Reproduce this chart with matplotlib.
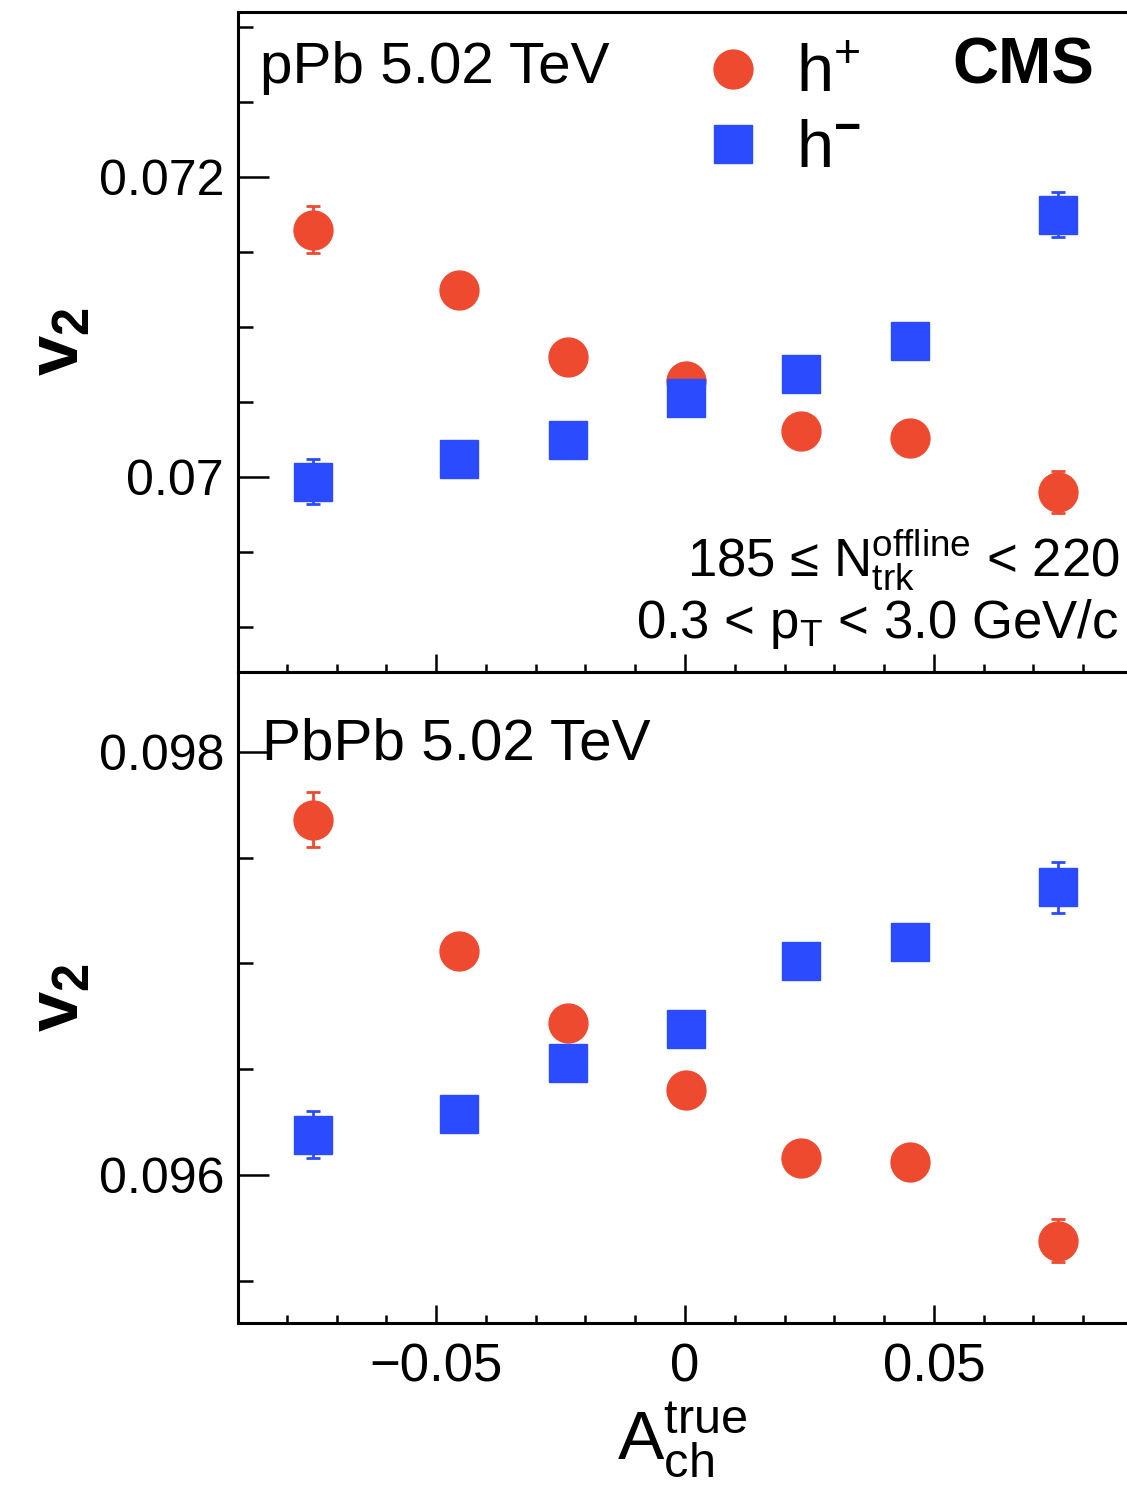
import matplotlib
matplotlib.use('Agg')
import matplotlib.pyplot as plt
from matplotlib.ticker import MultipleLocator, FuncFormatter
from matplotlib.lines import Line2D

plt.rcParams['font.family'] = ['Liberation Sans', 'DejaVu Sans']
plt.rcParams['mathtext.fontset'] = 'custom'
plt.rcParams['mathtext.rm'] = 'Liberation Sans'
plt.rcParams['mathtext.it'] = 'Liberation Sans:italic'
plt.rcParams['mathtext.bf'] = 'Liberation Sans:bold'

## charge asymmetry bins
ach_pos = [-0.0747, -0.0454, -0.0235, 0.0002, 0.0234, 0.0453, 0.0750]
ach_neg = [-0.0747, -0.0454, -0.0235, 0.0002, 0.0234, 0.0453, 0.0750]

## pPb 185 <= Ntrk < 220
ppb_hpos = [0.07165, 0.07125, 0.07080, 0.07064, 0.07031, 0.07026, 0.06990]
ppb_hpos_err = [0.00016, 0.00008, 0.00008, 0.00008, 0.00008, 0.00008, 0.00014]
ppb_hneg = [0.06997, 0.07012, 0.07025, 0.07053, 0.07069, 0.07091, 0.07175]
ppb_hneg_err = [0.00015, 0.00008, 0.00008, 0.00008, 0.00008, 0.00008, 0.00015]

## PbPb
pbpb_hpos = [0.09768, 0.09706, 0.09672, 0.09640, 0.09608, 0.09606, 0.09569]
pbpb_hpos_err = [0.00013, 0.00008, 0.00008, 0.00008, 0.00008, 0.00008, 0.00010]
pbpb_hneg = [0.09619, 0.09629, 0.09653, 0.09669, 0.09701, 0.09710, 0.09736]
pbpb_hneg_err = [0.00011, 0.00008, 0.00008, 0.00008, 0.00008, 0.00008, 0.00012]

red = '#EE4A2F'
blue = '#2B4BFF'

W, H = 1127, 1487
fig = plt.figure(figsize=(W / 100, H / 100), dpi=100)
left = 238 / W
ax1 = fig.add_axes([left, 1 - 672 / H, 1 - left, (672 - 12) / H])
ax2 = fig.add_axes([left, 1 - 1323 / H, 1 - left, (1323 - 672) / H])

def fmt(v, pos):
    return ('%g' % round(v, 4)).replace('-', '\u2212')

for ax in (ax1, ax2):
    ax.set_xlim(-0.0898, 0.0888)
    ax.spines['right'].set_visible(False)
    for s in ax.spines.values():
        s.set_linewidth(2.2)
    ax.xaxis.set_major_locator(MultipleLocator(0.05))
    ax.xaxis.set_minor_locator(MultipleLocator(0.01))
    ax.yaxis.set_major_locator(MultipleLocator(0.002))
    ax.yaxis.set_minor_locator(MultipleLocator(0.0005))
    ax.xaxis.set_major_formatter(FuncFormatter(fmt))
    ax.yaxis.set_major_formatter(FuncFormatter(fmt))
    ax.tick_params(which='both', direction='in', top=False, right=False, width=1.8, labelsize=36)
    ax.tick_params(axis='y', which='major', length=22, pad=10)
    ax.tick_params(axis='y', which='minor', length=11)
    ax.tick_params(axis='x', which='major', length=13)
    ax.tick_params(axis='x', which='minor', length=6)
    ax.text(-0.2, 0.5, r'$\mathbf{v_2}$', transform=ax.transAxes, rotation=90,
            ha='center', va='center', fontsize=52)

ax1.tick_params(axis='x', labelbottom=False)
ax2.tick_params(axis='x', pad=14, labelsize=38)

ax1.set_ylim(0.0687, 0.0731)
ax2.set_ylim(0.0953, 0.098378)

ekw = dict(linestyle='none', markersize=28, capsize=5, elinewidth=2, capthick=2)
ax1.errorbar(ach_pos, ppb_hpos, yerr=ppb_hpos_err, fmt='o', color=red, zorder=3, **ekw)
ax1.errorbar(ach_neg, ppb_hneg, yerr=ppb_hneg_err, fmt='s', color=blue, zorder=4, **ekw)
ax2.errorbar(ach_pos, pbpb_hpos, yerr=pbpb_hpos_err, fmt='o', color=red, zorder=3, **ekw)
ax2.errorbar(ach_neg, pbpb_hneg, yerr=pbpb_hneg_err, fmt='s', color=blue, zorder=4, **ekw)

ax1.text(0.0247, 0.892, 'pPb 5.02 TeV', transform=ax1.transAxes, fontsize=42, va='baseline')
ax1.text(0.804, 0.892, 'CMS', transform=ax1.transAxes, fontsize=46, fontweight='bold', va='baseline')
ax1.text(0.992, 0.144, '185 \u2264 N$_{\\mathrm{trk}}^{\\mathrm{offline}}$ < 220', transform=ax1.transAxes,
         fontsize=38, ha='right', va='baseline')
ax1.text(0.99, 0.0515, r'0.3 < p$_{\mathrm{T}}$ < 3.0 GeV/c', transform=ax1.transAxes,
         fontsize=38, ha='right', va='baseline')
ax2.text(0.027, 0.865, 'PbPb 5.02 TeV', transform=ax2.transAxes, fontsize=42, va='baseline')

handles = [Line2D([], [], marker='o', color=red, linestyle='none', markersize=28),
           Line2D([], [], marker='s', color=blue, linestyle='none', markersize=28)]
ax1.legend(handles, [r'h$^{+}$', r'h$^{\mathbf{-}}$'], loc='upper left', bbox_to_anchor=(0.482, 1.012),
           frameon=False, fontsize=48, handlelength=0.8, handletextpad=0.55,
           labelspacing=0.2, borderpad=0.1)

ax2.text(0.5, -0.21, r'A$_{\mathrm{ch}}^{\mathrm{true}}$', transform=ax2.transAxes,
         fontsize=50, ha='center', va='baseline')

fig.savefig('out.png', dpi=100)
